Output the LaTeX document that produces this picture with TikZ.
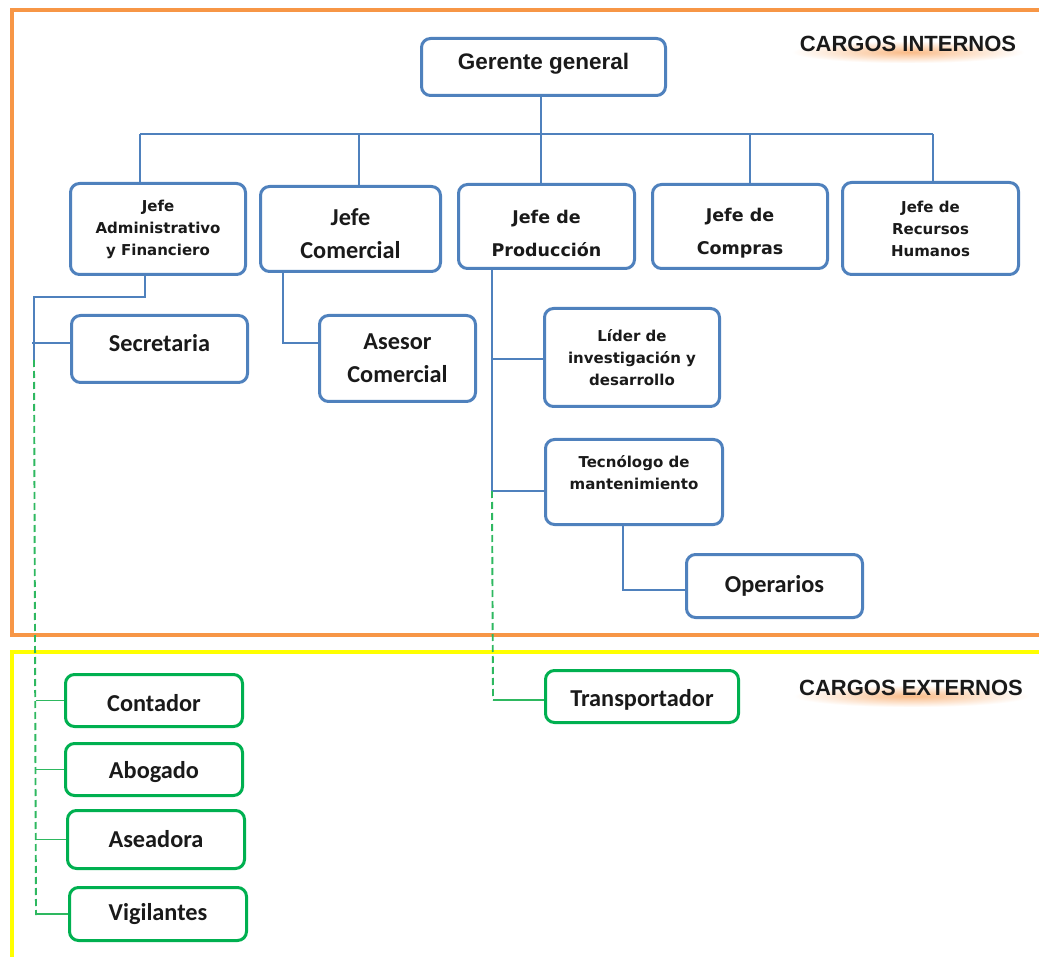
\documentclass[tikz,border=0pt]{standalone}
\usepackage{fontspec}
\usetikzlibrary{fadings}
\setmainfont{Carlito}
\newfontfamily\tah{DejaVu Sans}
\newfontfamily\ari{Liberation Sans}
\definecolor{boxblue}{HTML}{4F81BD}
\definecolor{lineblue}{HTML}{4F81BD}
\definecolor{boxgreen}{HTML}{00B050}
\definecolor{linegreen}{HTML}{2EB860}
\definecolor{frameorange}{HTML}{F79646}
\definecolor{frameyellow}{HTML}{FFFF00}
\definecolor{txt}{HTML}{1A1A1A}
\tikzfading[name=glowfade, inner color=transparent!0, outer color=transparent!100]
\newcommand{\fA}{\tah\bfseries\fontsize{15}{22}\selectfont}
\newcommand{\fB}{\tah\bfseries\fontsize{17.5}{33}\selectfont}
\newcommand{\fC}{\bfseries\fontsize{24.3}{33}\selectfont}
\newcommand{\fG}{\ari\bfseries\fontsize{22.5}{27}\selectfont}
\newcommand{\fH}{\ari\bfseries\fontsize{22}{26}\selectfont}
\begin{document}
\begin{tikzpicture}[x=1pt,y=-1pt,
  bbox/.style={draw=boxblue, line width=3pt, rounded corners=9pt, fill=white,
    align=center, inner sep=0pt, text=txt},
  gbox/.style={bbox, draw=boxgreen},
  conn/.style={draw=lineblue, line width=1.5pt},
  gconn/.style={draw=linegreen, line width=1.5pt},
  gdash/.style={draw=linegreen, line width=1.9pt, dash pattern=on 7pt off 4pt},
  frame/.style={line width=3.5pt},
  head/.style={font=\fH, text=txt, inner sep=0pt},
  glow/.style={fill=frameorange, path fading=glowfade, opacity=0.65}]
\useasboundingbox (0,0) rectangle (1039,957);
\begin{scope}
\clip (0,0) rectangle (1039,957);
\draw[frame, draw=frameorange] (12,10) rectangle (1070,635);
\draw[frame, draw=frameyellow] (12,652) rectangle (1070,990);
\end{scope}

% headings with orange glow
\fill[glow] (792,41) rectangle (1024,63);
\node[head] (hi) at (908,44) {CARGOS INTERNOS};
\fill[glow] (794,685) rectangle (1029,707);
\node[head] (he) at (911,688) {CARGOS EXTERNOS};

% internal positions
\node[bbox, minimum width=244, minimum height=57, font=\fG] (gg) at (543.5,67) {Gerente general\\[-15pt]\mbox{}};
\node[bbox, minimum width=175, minimum height=91, font=\fA] (jaf) at (158,229) {Jefe\\Administrativo\\y Financiero};
\node[bbox, minimum width=180, minimum height=85, font=\fC] (jc) at (350.5,229) {\mbox{}\\[-6pt]Jefe\\Comercial};
\node[bbox, minimum width=176, minimum height=84, font=\fB] (jp) at (546.5,226.5) {\mbox{}\\[-6pt]Jefe de\\Producción};
\node[bbox, minimum width=175, minimum height=84, font=\fB] (jco) at (740,226.5) {\mbox{}\\[-6pt]Jefe de\\Compras};
\node[bbox, minimum width=176, minimum height=92, font=\fA] (rrhh) at (930.5,228.5) {Jefe de\\Recursos\\Humanos};
\node[bbox, minimum width=176, minimum height=67, font=\fC] (sec) at (159.5,349) {Secretaria\\[-21pt]\mbox{}};
\node[bbox, minimum width=156, minimum height=86, font=\fC] (ase) at (397.5,358.5) {Asesor\\Comercial};
\node[bbox, minimum width=175, minimum height=98, font=\fA] (lid) at (632,357.5) {Líder de\\investigación y\\desarrollo};
\node[bbox, minimum width=177, minimum height=85, font=\fA] (tec) at (634,482) {Tecnólogo de\\mantenimiento\\[-3pt]\mbox{}};
\node[bbox, minimum width=176, minimum height=63, font=\fC] (ope) at (774.5,586) {Operarios};

% external positions
\node[gbox, minimum width=177, minimum height=52, font=\fC] (con) at (154,700.5) {\mbox{}\\[-11pt]Contador};
\node[gbox, minimum width=177, minimum height=52, font=\fC] (abo) at (154,769.5) {\mbox{}\\[-11pt]Abogado};
\node[gbox, minimum width=177, minimum height=58, font=\fC] (asea) at (156,839.5) {Aseadora};
\node[gbox, minimum width=177, minimum height=53, font=\fC] (vig) at (158,914) {Vigilantes};
\node[gbox, minimum width=193, minimum height=52, font=\fC] (tra) at (642,696.5) {\mbox{}\\[-9pt]Transportador};

% bus from general manager
\coordinate (b0) at (541,134);
\coordinate (bA) at (140,134);
\coordinate (bC) at (359,134);
\coordinate (bO) at (750,134);
\coordinate (bR) at (933,134);
\draw[conn] (gg.south -| b0) -- (b0);
\draw[conn] (bA) -- (bR);
\draw[conn] (bA) -- (bA |- jaf.north);
\draw[conn] (bC) -- (bC |- jc.north);
\draw[conn] (b0) -- (b0 |- jp.north);
\draw[conn] (bO) -- (bO |- jco.north);
\draw[conn] (bR) -- (bR |- rrhh.north);

% administrative branch
\coordinate (aA) at (145,297);
\coordinate (aV) at (34,297);
\coordinate (aE) at (34,360);
\coordinate (sB) at (32,343);
\draw[conn] (aA |- jaf.south) -- (aA) -- (aV) -- (aE);
\draw[conn] (sB) -- (sB -| sec.west);
\coordinate (gE) at (36,915);
\draw[gdash] (aE) -- (gE);
\draw[gconn] (con.west -| gE) -- (con.west);
\draw[gconn] (abo.west -| gE) -- (abo.west);
\draw[gconn] (asea.west -| gE) -- (asea.west);
\draw[gconn] (vig.west -| gE) -- (vig.west);

% commercial branch
\coordinate (cA) at (283,343);
\draw[conn] (cA |- jc.south) -- (cA) -- (cA -| ase.west);

% production branch
\coordinate (pA) at (492,359);
\coordinate (pB) at (492,491);
\coordinate (pT) at (493,700);
\draw[conn] (pA |- jp.south) -- (pB);
\draw[conn] (pA) -- (pA -| lid.west);
\draw[conn] (pB) -- (pB -| tec.west);
\draw[gdash] (pB) -- (pT);
\draw[gconn] (pT) -- (pT -| tra.west);

% maintenance to operators
\coordinate (tA) at (623,590);
\draw[conn] (tA |- tec.south) -- (tA) -- (tA -| ope.west);
\end{tikzpicture}
\end{document}
